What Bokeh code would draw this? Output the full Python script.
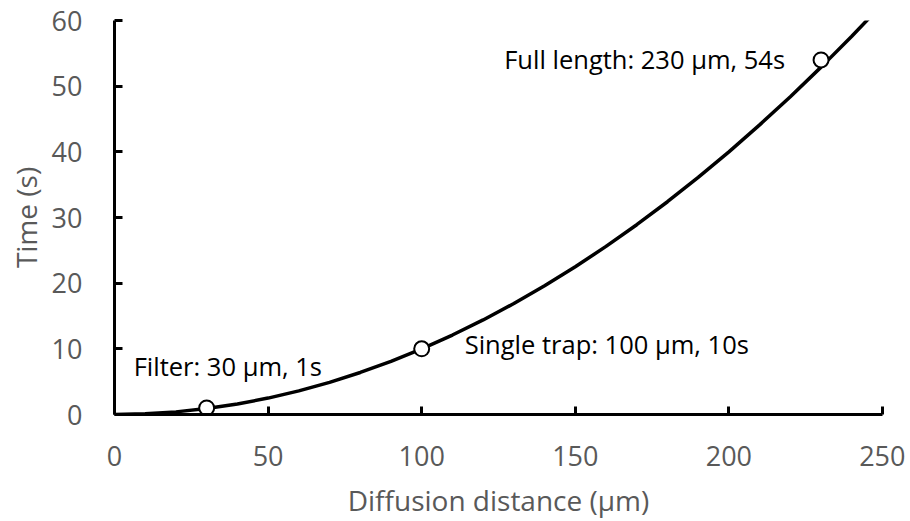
from bokeh.plotting import figure
from bokeh.models import Range1d, Label, FixedTicker
from bokeh.embed import file_html
from bokeh.resources import INLINE

# Curve: diffusion distance (µm) vs time (s)
distance = [0, 10, 20, 30, 40, 50, 60, 70, 80, 90, 100, 110, 120, 130, 140, 150,
            160, 170, 180, 190, 200, 210, 220, 230, 240, 250]
time_s = [0, 0.1, 0.4, 0.9, 1.6, 2.5, 3.6, 4.9, 6.4, 8.1, 10, 12.1, 14.4, 16.9, 19.6,
          22.5, 25.6, 28.9, 32.4, 36.1, 40, 44.1, 48.4, 52.9, 57.6, 62.5]

# Marked points
mark_x = [30, 100, 230]
mark_y = [1, 10, 54]
mark_labels = ["Filter: 30 µm, 1s", "Single trap: 100 µm, 10s", "Full length: 230 µm, 54s"]

x_ticks = [0, 50, 100, 150, 200, 250]
y_ticks = [0, 10, 20, 30, 40, 50, 60]

FONT = "Open Sans"
GRAY = "#595959"

p = figure(width=905, height=521, output_backend="svg", toolbar_location=None,
           x_range=Range1d(0, 250), y_range=Range1d(0, 60),
           min_border_left=114, min_border_right=23, min_border_top=20, min_border_bottom=106)
p.outline_line_color = None
p.grid.visible = False
p.background_fill_color = "white"
p.border_fill_color = "white"

for ax, ticks in ((p.xaxis[0], x_ticks), (p.yaxis[0], y_ticks)):
    ax.ticker = FixedTicker(ticks=ticks)
    ax.axis_line_width = 3
    ax.axis_line_color = "black"
    ax.major_tick_line_width = 3
    ax.major_tick_line_color = "black"
    ax.major_tick_in = 8
    ax.major_tick_out = 0
    ax.minor_tick_line_color = None
    ax.major_label_text_font = FONT
    ax.major_label_text_font_size = "27px"
    ax.major_label_text_color = GRAY
    ax.axis_label_text_font = FONT
    ax.axis_label_text_font_size = "28px"
    ax.axis_label_text_color = GRAY
    ax.axis_label_text_font_style = "normal"

p.xaxis.axis_label = "Diffusion distance (µm)"
p.yaxis.axis_label = "Time (s)"
p.xaxis.major_label_standoff = 31
p.yaxis.major_label_standoff = 32
p.xaxis.axis_label_standoff = 12
p.yaxis.axis_label_standoff = 4

p.line(distance, time_s, line_width=3.5, line_color="black")
p.scatter(mark_x, mark_y, size=15, fill_color="white", line_color="black", line_width=2)

offsets = [(-73, 42, "left"), (43, 5, "left"), (-36, 1, "right")]
for (x, y, t), (dx, dy, al) in zip(zip(mark_x, mark_y, mark_labels), offsets):
    p.add_layout(Label(x=x, y=y, text=t, x_offset=dx, y_offset=dy,
                       text_align=al, text_baseline="middle",
                       text_font=FONT, text_font_size="25.5px", text_color="black"))

open("out.html", "w").write(file_html(p, INLINE))
